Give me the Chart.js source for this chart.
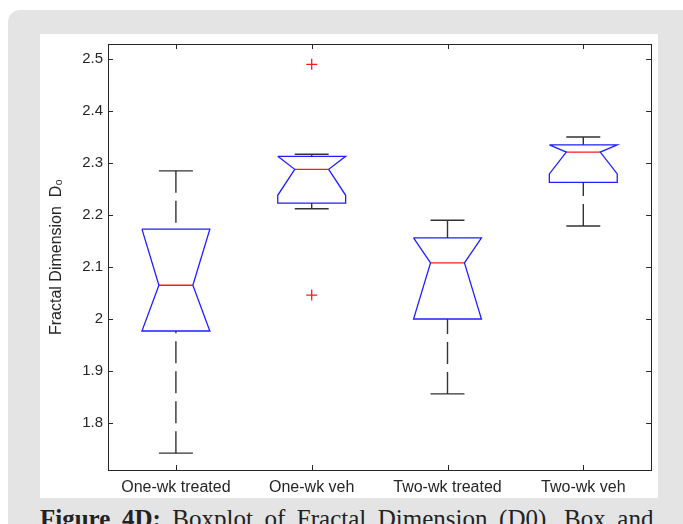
<!DOCTYPE html>
<html>
<head>
<meta charset="utf-8">
<script src="https://cdn.jsdelivr.net/npm/chart.js@4/dist/chart.umd.min.js"></script>
<style>
  html, body { margin: 0; padding: 0; background: #ffffff; width: 683px; height: 524px; overflow: hidden; }
  #panel { position: absolute; left: 8px; top: 10px; width: 720px; height: 560px; background: #e4e4e4; border-radius: 12px; }
  #plotbox { position: absolute; left: 40px; top: 34px; width: 618px; height: 464px; background: #ffffff; }
  #caption { position: absolute; left: 40px; top: 505px; white-space: nowrap; font-family: "Liberation Serif", "DejaVu Serif", serif; font-size: 25px; color: #222; word-spacing: 5.3px; }
  #caption b { font-weight: bold; }
</style>
</head>
<body>
<div id="panel"></div>
<div id="plotbox"><canvas id="c" width="618" height="464"></canvas></div>
<div id="caption"><b>Figure 4D:</b> Boxplot of Fractal Dimension (D0). Box and</div>
<script>
// ---- data ----
const categories   = ['One-wk treated', 'One-wk veh', 'Two-wk treated', 'Two-wk veh'];
const upperWhisker = [2.285, 2.317, 2.190, 2.350];
const q3Values     = [2.173, 2.313, 2.156, 2.335];
const notchHigh    = [2.173, 2.313, 2.156, 2.335];
const medians      = [2.065, 2.288, 2.108, 2.321];
const notchLow     = [1.977, 2.238, 2.000, 2.279];
const q1Values     = [1.977, 2.223, 2.000, 2.263];
const lowerWhisker = [1.742, 2.212, 1.856, 2.179];
const outlierCat   = [1, 1];
const outlierVals  = [2.490, 2.046];
const yTickValues  = [1.8, 1.9, 2.0, 2.1, 2.2, 2.3, 2.4, 2.5];

// ---- geometry in category units (style) ----
const BOX_HALF = 0.25, NOTCH_HALF = 0.125, CAP_HALF = 0.125;

const boxPts = [], medPts = [], whiskPts = [], capPts = [];
categories.forEach((_, i) => {
  const a = i - BOX_HALF, b = i + BOX_HALF, na = i - NOTCH_HALF, nb = i + NOTCH_HALF;
  boxPts.push(
    {x: a, y: q3Values[i]}, {x: b, y: q3Values[i]}, {x: b, y: notchHigh[i]},
    {x: nb, y: medians[i]}, {x: b, y: notchLow[i]}, {x: b, y: q1Values[i]},
    {x: a, y: q1Values[i]}, {x: a, y: notchLow[i]}, {x: na, y: medians[i]},
    {x: a, y: notchHigh[i]}, {x: a, y: q3Values[i]}, {x: i + 0.5, y: null});
  medPts.push({x: na, y: medians[i]}, {x: nb, y: medians[i]}, {x: i + 0.5, y: null});
  whiskPts.push({x: i, y: upperWhisker[i]}, {x: i, y: q3Values[i]}, {x: i + 0.4, y: null},
                {x: i, y: lowerWhisker[i]}, {x: i, y: q1Values[i]}, {x: i + 0.5, y: null});
  capPts.push({x: i - CAP_HALF, y: upperWhisker[i]}, {x: i + CAP_HALF, y: upperWhisker[i]}, {x: i + 0.4, y: null},
              {x: i - CAP_HALF, y: lowerWhisker[i]}, {x: i + CAP_HALF, y: lowerWhisker[i]}, {x: i + 0.5, y: null});
});
const outPts = outlierCat.map((c, k) => ({x: c, y: outlierVals[k]}));

const lineBase = { type: 'line', pointRadius: 0, tension: 0, spanGaps: false, fill: false };

// frame + inward tick marks (MATLAB style) drawn via the chart's scales
const framePlugin = {
  id: 'frame',
  afterDatasetsDraw(chart) {
    const {ctx, chartArea: ca, scales: {x, y}} = chart;
    ctx.save();
    ctx.strokeStyle = '#262626';
    ctx.lineWidth = 1;
    ctx.strokeRect(Math.round(ca.left) + 0.5, Math.round(ca.top) + 0.5,
                   Math.round(ca.right - ca.left), Math.round(ca.bottom - ca.top));
    const L = 5;
    ctx.beginPath();
    y.ticks.forEach(t => {
      const py = Math.round(y.getPixelForValue(t.value)) + 0.5;
      ctx.moveTo(ca.left, py); ctx.lineTo(ca.left + L, py);
      ctx.moveTo(ca.right, py); ctx.lineTo(ca.right - L, py);
    });
    x.ticks.forEach(t => {
      const px = Math.round(x.getPixelForValue(t.value)) + 0.5;
      ctx.moveTo(px, ca.bottom); ctx.lineTo(px, ca.bottom - L);
      ctx.moveTo(px, ca.top); ctx.lineTo(px, ca.top + L);
    });
    ctx.stroke();
    ctx.restore();
  }
};

new Chart(document.getElementById('c'), {
  type: 'line',
  data: {
    datasets: [
      Object.assign({}, lineBase, { label: 'whiskers', data: whiskPts, borderColor: '#333333', borderWidth: 1.4, borderDash: [22, 8] }),
      Object.assign({}, lineBase, { label: 'caps', data: capPts, borderColor: '#333333', borderWidth: 1.4 }),
      Object.assign({}, lineBase, { label: 'boxes', data: boxPts, borderColor: '#1f1fff', borderWidth: 1.3 }),
      Object.assign({}, lineBase, { label: 'medians', data: medPts, borderColor: '#ff1a1a', borderWidth: 1.3 }),
      { type: 'scatter', label: 'outliers', data: outPts, showLine: false, pointStyle: 'cross',
        pointRadius: 5.5, pointBorderWidth: 1.3, borderColor: '#ff1a1a', backgroundColor: '#ff1a1a' }
    ]
  },
  options: {
    responsive: false,
    animation: false,
    devicePixelRatio: 1,
    layout: { padding: { top: 10, right: 6, left: 0, bottom: 0 } },
    plugins: { legend: { display: false }, tooltip: { enabled: false } },
    scales: {
      x: {
        type: 'linear', min: -0.5, max: 3.5,
        grid: { display: false, drawTicks: false }, border: { display: false },
        afterBuildTicks: s => { s.ticks = categories.map((_, i) => ({ value: i })); },
        ticks: { autoSkip: false, maxRotation: 0, minRotation: 0,
                 padding: 8, color: '#262626',
                 font: { family: 'Liberation Sans, Arial, sans-serif', size: 16 },
                 callback: v => categories[Math.round(v)] },
        afterFit: s => { s.height = 28; s.paddingLeft = 0; s.paddingRight = 0; }
      },
      y: {
        type: 'linear', min: 1.7096, max: 2.529,
        grid: { display: false, drawTicks: false }, border: { display: false },
        afterBuildTicks: s => { s.ticks = yTickValues.map(v => ({ value: v })); },
        ticks: { padding: 5, color: '#262626',
                 font: { family: 'Liberation Sans, Arial, sans-serif', size: 15 },
                 callback: v => String(Math.round(v * 10) / 10) },
        title: { display: true, text: 'Fractal Dimension  D\u2080', color: '#262626',
                 font: { family: 'Liberation Sans, Arial, sans-serif', size: 16 }, padding: { top: 7, bottom: 0 } },
        afterFit: s => { s.width = 68; s.paddingTop = 0; s.paddingBottom = 0; }
      }
    }
  },
  plugins: [framePlugin]
});
</script>
</body>
</html>
